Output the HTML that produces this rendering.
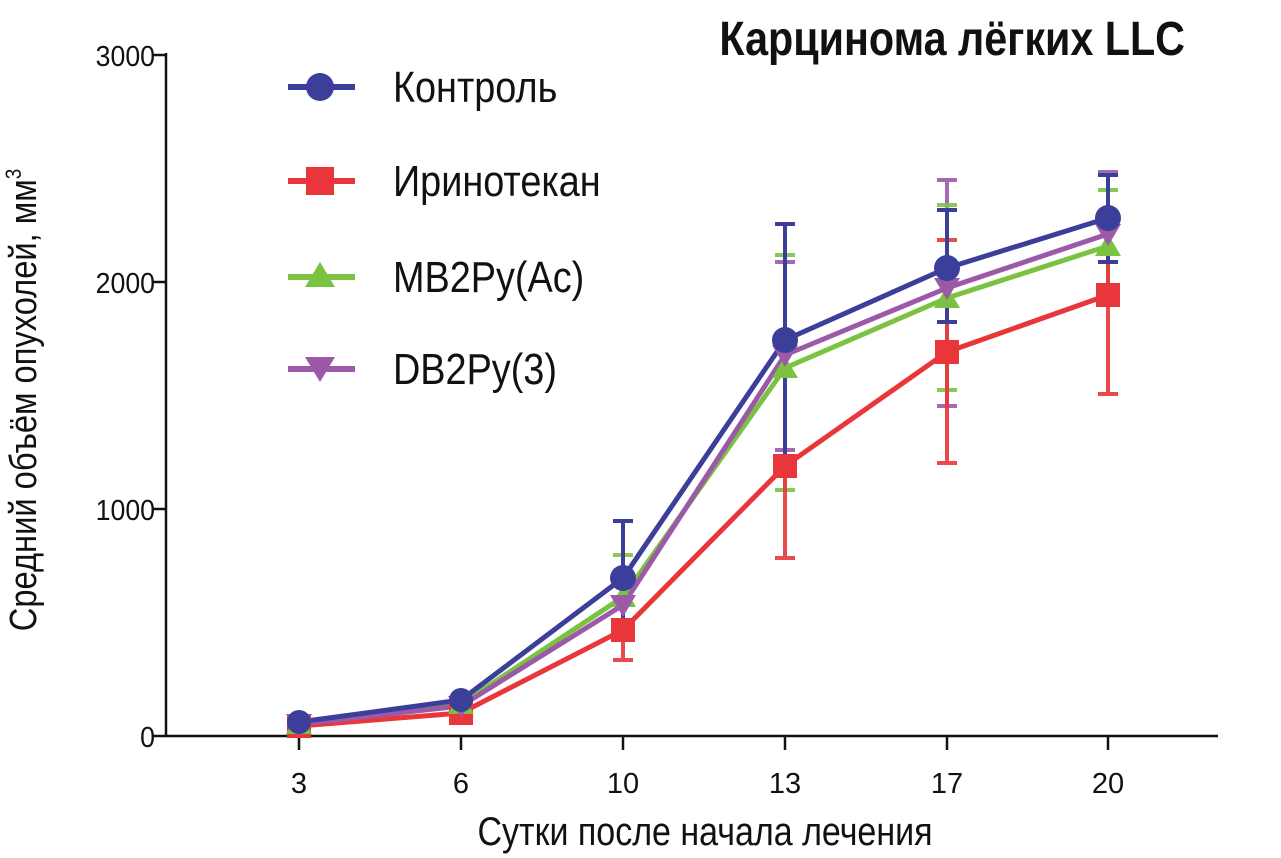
<!DOCTYPE html>
<html><head><meta charset="utf-8"><style>html,body{margin:0;padding:0;background:#fff}svg{display:block}text{font-family:"Liberation Sans",sans-serif;fill:#111}</style></head>
<body>
<svg width="1281" height="858" viewBox="0 0 1281 858" xmlns="http://www.w3.org/2000/svg">
<g stroke="#111" stroke-width="2.5" fill="none">
<line x1="166" y1="53" x2="166" y2="737"/>
<line x1="165" y1="736" x2="1218" y2="736"/>
<line x1="152" y1="55" x2="166" y2="55"/><line x1="152" y1="282" x2="166" y2="282"/><line x1="152" y1="509" x2="166" y2="509"/><line x1="152" y1="736" x2="166" y2="736"/>
<line x1="299" y1="736" x2="299" y2="750"/><line x1="461" y1="736" x2="461" y2="750"/><line x1="623" y1="736" x2="623" y2="750"/><line x1="785" y1="736" x2="785" y2="750"/><line x1="947" y1="736" x2="947" y2="750"/><line x1="1108" y1="736" x2="1108" y2="750"/>
</g>
<g font-size="29" text-anchor="end">
<text x="155" y="66" transform="translate(155 0) scale(0.92 1) translate(-155 0)">3000</text>
<text x="155" y="293" transform="translate(155 0) scale(0.92 1) translate(-155 0)">2000</text>
<text x="155" y="520" transform="translate(155 0) scale(0.92 1) translate(-155 0)">1000</text>
<text x="155" y="747" transform="translate(155 0) scale(0.92 1) translate(-155 0)">0</text>
</g>
<g font-size="29" text-anchor="middle">
<text x="299" y="793">3</text><text x="461" y="793">6</text><text x="623" y="793">10</text><text x="785" y="793">13</text><text x="947" y="793">17</text><text x="1108" y="793">20</text>
</g>
<text x="705" y="845" font-size="40" text-anchor="middle" transform="translate(705 0) scale(0.85 1) translate(-705 0)">Сутки после начала лечения</text>
<text transform="translate(36 400) rotate(-90) scale(0.86 1)" font-size="38" text-anchor="middle">Средний объём опухолей, мм<tspan font-size="22" dy="-15">3</tspan></text>
<text x="1185" y="55" font-size="48" font-weight="bold" text-anchor="end" transform="translate(1185 0) scale(0.86 1) translate(-1185 0)">Карцинома лёгких LLC</text>

<g stroke-width="4" fill="none">
<g stroke="#9b59a8" opacity="0.9">
<path d="M785 262V450M775 262h20M775 450h20M947 180V406M937 180h20M937 406h20M1108 172V296M1098 172h20M1098 296h20"/>
</g>
<g stroke="#7cc242" opacity="0.9">
<path d="M623 555V640M613 555h20M785 255V490M775 255h20M775 490h20M947 205V390M937 205h20M937 390h20M1108 190V300M1098 190h20"/>
</g>
<g stroke="#e8363a" opacity="0.9">
<path d="M623 602V660M613 660h20M785 363V558M775 558h20M947 240V463M937 240h20M937 463h20M1108 195V394M1098 394h20"/>
</g>
<g stroke="#3c3f99">
<path d="M623 521V635M613 521h20M613 635h20M785 224V456M775 224h20M775 456h20M947 210V322M937 210h20M937 322h20M1108 175V262M1098 175h20M1098 262h20"/>
</g>
</g>
<g fill="none" stroke-width="5" stroke-linejoin="round">
<polyline stroke="#e8363a" points="299,726 461,713 623,630 785,466 947,352 1108,295"/>
<polyline stroke="#7cc242" points="299,724 461,704 623,597 785,368 947,298 1108,246"/>
<polyline stroke="#9b59a8" points="299,724 461,706 623,605 785,355 947,288 1108,234"/>
<polyline stroke="#3c3f99" points="299,722 461,700 623,578 785,340 947,268 1108,218"/>
</g>
<g fill="#e8363a"><rect x="287" y="714" width="24" height="24"/><rect x="449" y="701" width="24" height="24"/><rect x="611" y="618" width="24" height="24"/><rect x="773" y="454" width="24" height="24"/><rect x="935" y="340" width="24" height="24"/><rect x="1096" y="283" width="24" height="24"/></g>
<g fill="#7cc242"><path d="M299 712l13 22h-26zM461 692l13 22h-26zM623 585l13 22h-26zM785 356l13 22h-26zM947 286l13 22h-26zM1108 234l13 22h-26z"/></g>
<g fill="#9b59a8"><path d="M299 736l13 -22h-26zM461 718l13 -22h-26zM623 617l13 -22h-26zM785 367l13 -22h-26zM947 300l13 -22h-26zM1108 246l13 -22h-26z"/></g>
<g fill="#3c3f99"><circle cx="299" cy="722" r="12"/><circle cx="461" cy="700" r="12"/><circle cx="623" cy="578" r="13"/><circle cx="785" cy="340" r="13"/><circle cx="947" cy="268" r="13"/><circle cx="1108" cy="218" r="13"/></g>
<g stroke-width="6">
<line x1="288" y1="87" x2="355" y2="87" stroke="#3c3f99"/><circle cx="320" cy="87" r="14" fill="#3c3f99"/>
<line x1="288" y1="181" x2="355" y2="181" stroke="#e8363a"/><rect x="306" y="167" width="28" height="28" fill="#e8363a" stroke="none"/>
<line x1="288" y1="277" x2="355" y2="277" stroke="#7cc242"/><path d="M320 262l15 25h-30z" fill="#7cc242" stroke="none"/>
<line x1="288" y1="369" x2="355" y2="369" stroke="#9b59a8"/><path d="M320 382l15 -25h-30z" fill="#9b59a8" stroke="none"/>
</g>
<g font-size="44">
<text x="393" y="102" transform="translate(393 0) scale(0.86 1) translate(-393 0)">Контроль</text>
<text x="393" y="196" transform="translate(393 0) scale(0.86 1) translate(-393 0)">Иринотекан</text>
<text x="393" y="292" transform="translate(393 0) scale(0.86 1) translate(-393 0)">MB2Py(Ac)</text>
<text x="393" y="384" transform="translate(393 0) scale(0.86 1) translate(-393 0)">DB2Py(3)</text>
</g>
</svg>
</body></html>
